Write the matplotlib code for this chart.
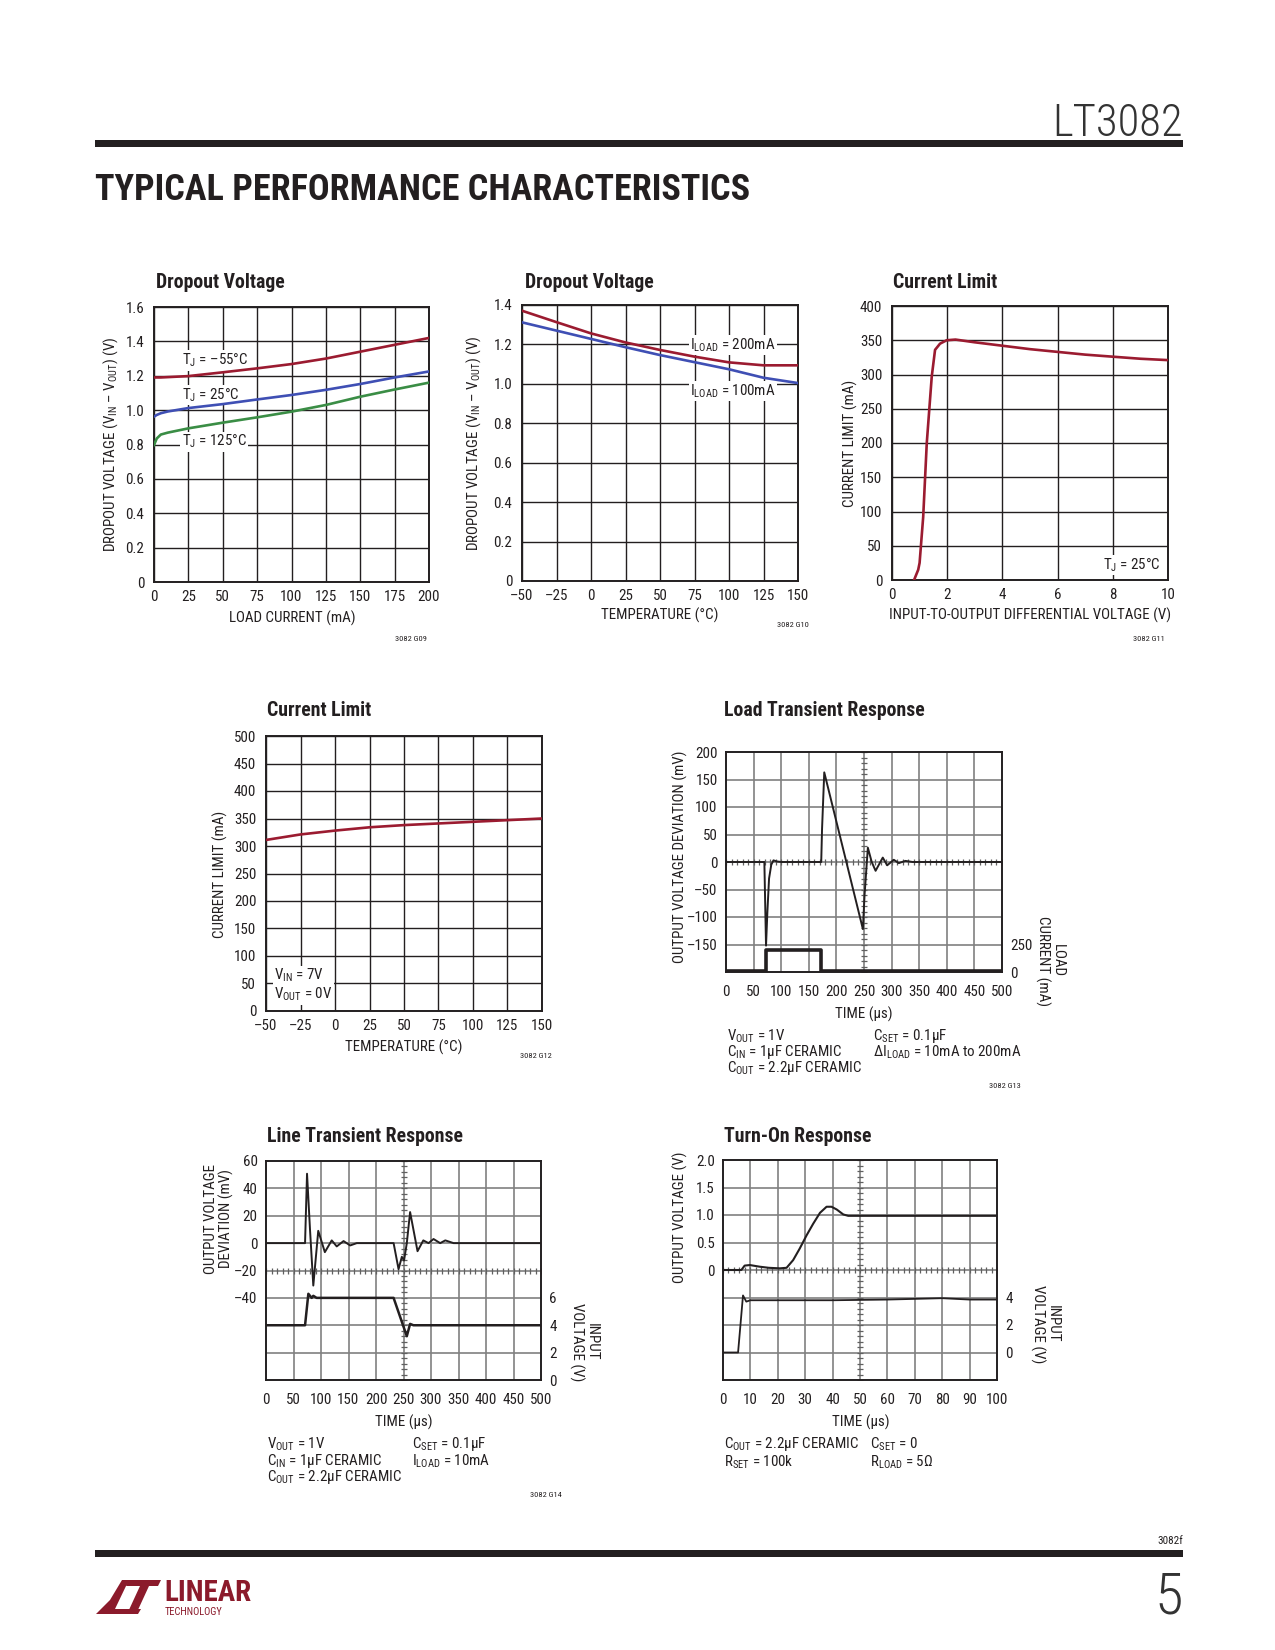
import numpy as np
import matplotlib
matplotlib.use("Agg")
import matplotlib.pyplot as plt
import matplotlib.font_manager as fm
from matplotlib.patches import Rectangle, Polygon

# ---------------------------------------------------------------------------
# Data
# ---------------------------------------------------------------------------
# G09: dropout voltage vs load current
load_ma = [0, 2, 5, 10, 25, 50, 75, 100, 125, 150, 175, 200]
vdo_m55 = [1.190, 1.190, 1.190, 1.192, 1.198, 1.220, 1.243, 1.268, 1.300, 1.340, 1.380, 1.420]
vdo_25 = [0.962, 0.972, 0.982, 0.992, 1.012, 1.035, 1.062, 1.088, 1.118, 1.152, 1.190, 1.225]
vdo_125 = [0.797, 0.835, 0.858, 0.869, 0.894, 0.927, 0.958, 0.991, 1.030, 1.078, 1.120, 1.160]

# G10: dropout voltage vs temperature
temp_c = [-50, -25, 0, 25, 50, 75, 100, 125, 150]
vdo_200ma = [1.371, 1.313, 1.256, 1.210, 1.172, 1.138, 1.109, 1.094, 1.094]
vdo_100ma = [1.312, 1.270, 1.228, 1.186, 1.146, 1.110, 1.074, 1.031, 1.004]

# G11: current limit vs input-to-output differential
vdiff = [0.80, 0.95, 1.00, 1.13, 1.26, 1.44, 1.56, 1.74, 1.98, 2.3, 3, 4, 5, 6, 7, 8, 9, 10]
ilim_vdiff = [0, 15, 25, 92, 200, 297, 336, 345, 350, 351, 347, 342, 337, 333, 329, 326, 323, 321]

# G12: current limit vs temperature
ilim_temp = [311, 321, 328, 334, 338, 341, 344, 347, 350]

# G13: load transient
t_load = [0, 69.5, 72.5, 75, 78, 82, 86, 92, 100, 172.5, 174, 178, 248, 251, 257,
          264, 271, 278, 284, 292, 304, 313, 325, 338, 500]
dv_load = [0, 0, -152, -90, -30, -5, 3, 1, 0, 0, 60, 163, -122, -60, 26,
           0, -16, -3, 8, -6, 4, -2, 2, 0, 0]
t_iload = [0, 72.5, 72.5, 172.5, 172.5, 500]
i_load = [10, 10, 200, 200, 10, 10]

# G14: line transient
t_line = [0, 71, 74.6, 80, 86, 95, 107, 119.5, 128.6, 141, 153, 165, 232, 241, 247,
          251, 256, 262, 275.5, 286, 295.5, 304.6, 316.7, 326, 341, 500]
dv_line = [0, 0, 50.7, 10, -31, 9, -6.6, 2, -2.4, 1.5, -1.7, 0, 0, -19, -10,
           -12.7, 0, 22.7, -5.9, 2, 0, 3, 0, 2, 0, 0]
t_vin = [0, 71, 77, 83, 86, 92, 232, 256, 262, 268, 500]
v_in = [4.0, 4.0, 6.3, 6.0, 6.15, 6.0, 6.0, 3.2, 4.1, 4.0, 4.0]

# Turn-on response
t_on = [0, 6.7, 7.9, 9.8, 13.4, 16.7, 20.7, 23.2, 25.6, 28, 30.5, 32.9, 35.4,
        37.8, 39.6, 41.5, 43.9, 45.7, 100]
vout_on = [0, 0, 0.08, 0.09, 0.06, 0.04, 0.03, 0.04, 0.18, 0.39, 0.63, 0.84, 1.04,
           1.15, 1.15, 1.10, 1.01, 0.985, 0.985]
t_on_in = [0, 5.5, 7.3, 8.5, 10, 40, 60, 80, 90, 100]
vin_on = [0, 0, 4.15, 3.7, 3.8, 3.8, 3.85, 3.95, 3.85, 3.85]

# tick labels
load_ticks = [0, 25, 50, 75, 100, 125, 150, 175, 200]
temp_ticks = [-50, -25, 0, 25, 50, 75, 100, 125, 150]
temp_labels = ["–50", "–25", "0", "25", "50", "75", "100", "125", "150"]

# ---------------------------------------------------------------------------
# Font: prefer a condensed sans like the datasheet's Helvetica Condensed
# ---------------------------------------------------------------------------
_names = {f.name for f in fm.fontManager.ttflist}
_condensed_dejavu = any(f.name == "DejaVu Sans" and f.stretch in ("condensed", 500)
                        for f in fm.fontManager.ttflist)
NARROW = None
for cand in ("Liberation Sans Narrow", "Roboto Condensed", "Open Sans Condensed",
             "DejaVu Sans Condensed"):
    if cand in _names:
        NARROW = cand
        break
STRETCH = "normal"
if NARROW is None and _condensed_dejavu:
    NARROW, STRETCH = "DejaVu Sans", "condensed"
if NARROW is None:
    NARROW = "Liberation Sans" if "Liberation Sans" in _names else "DejaVu Sans"
    FS = 9
else:
    FS = 10.8

W, H = 1275, 1650
INK = "#231f20"
RED = "#9b1b30"
BLUE = "#3f4fb4"
GREEN = "#3a8d45"
GRID = "#808080"
TITLE_FS = FS * 1.32

plt.rcParams.update({
    "font.family": [NARROW, "DejaVu Sans"],
    "font.stretch": STRETCH,
    "mathtext.fontset": "custom",
    "mathtext.rm": NARROW,
    "mathtext.it": NARROW + ":italic",
    "mathtext.bf": NARROW + ":bold",
    "text.color": INK,
    "axes.edgecolor": INK,
    "xtick.color": INK,
    "ytick.color": INK,
})

fig = plt.figure(figsize=(W / 100, H / 100), dpi=100)
fig.patch.set_facecolor("white")


def fx(x):
    return x / W


def fy(y):
    return 1 - y / H


def add_axes(x0, y0, x1, y1):
    return fig.add_axes([fx(x0), fy(y1), (x1 - x0) / W, (y1 - y0) / H])


def ftext(x, y, s, **kw):
    kw.setdefault("fontsize", FS)
    return fig.text(fx(x), fy(y), s, **kw)


def grid_chart(ax, xticks, yticks, xlabels=None, ylabels=None):
    ax.set_xlim(xticks[0], xticks[-1])
    ax.set_ylim(yticks[0], yticks[-1])
    ax.set_xticks(xticks)
    ax.set_yticks(yticks)
    if xlabels is not None:
        ax.set_xticklabels(xlabels)
    if ylabels is not None:
        ax.set_yticklabels(ylabels)
    ax.grid(True, color=INK, lw=1.0)
    ax.set_axisbelow(True)
    ax.tick_params(length=0, labelsize=FS)
    ax.tick_params(axis="x", pad=6)
    ax.tick_params(axis="y", pad=7)
    for s in ax.spines.values():
        s.set_linewidth(1.4)


def scope(ax, xlim, ylim, nx=10, ny=8):
    ax.set_xlim(xlim)
    ax.set_ylim(ylim)
    xs = np.linspace(xlim[0], xlim[1], nx + 1)
    ys = np.linspace(ylim[0], ylim[1], ny + 1)
    for x in xs[1:-1]:
        ax.axvline(x, color=GRID, lw=1.2, zorder=1)
    for y in ys[1:-1]:
        ax.axhline(y, color=GRID, lw=1.2, zorder=1)
    xc, yc = xs[nx // 2], ys[ny // 2]
    sub_x = np.linspace(xlim[0], xlim[1], nx * 5 + 1)
    sub_y = np.linspace(ylim[0], ylim[1], ny * 5 + 1)
    ax.plot(sub_x, np.full_like(sub_x, yc), ls="none", marker="|", ms=4,
            mew=0.9, color="#606060", zorder=1)
    ax.plot(np.full_like(sub_y, xc), sub_y, ls="none", marker="_", ms=4,
            mew=0.9, color="#606060", zorder=1)
    ax.tick_params(length=0, labelsize=FS)
    ax.tick_params(axis="x", pad=9)
    ax.tick_params(axis="y", pad=6)
    for s in ax.spines.values():
        s.set_linewidth(1.4)
    return xs, ys


box = dict(facecolor="white", edgecolor="none", pad=1.0)

# ---------------------------------------------------------------------------
# Page furniture
# ---------------------------------------------------------------------------
ftext(1183, 124, "LT3082", fontsize=32, fontweight="light", ha="right",
      va="center", color="#333333")
fig.add_artist(Rectangle((fx(95), fy(147)), fx(1183) - fx(95), 7 / H,
                         transform=fig.transFigure, color=INK, lw=0))
ftext(95, 190, "TYPICAL PERFORMANCE CHARACTERISTICS", fontsize=26,
      fontweight="bold", ha="left", va="center", color=INK)

ftext(1183, 1541, "3082f", fontsize=8, ha="right", va="center")
fig.add_artist(Rectangle((fx(95), fy(1557)), fx(1183) - fx(95), 7 / H,
                         transform=fig.transFigure, color=INK, lw=0))
ftext(1183, 1598, "5", fontsize=42, fontweight="light", ha="right", va="center",
      color="#333333")

LOGO = "#8b1a2b"
logo_l = [(96, 1614), (138, 1614), (141, 1609), (115, 1609), (126, 1586),
          (131, 1580), (122, 1580), (110, 1600)]
logo_t = [(129, 1580), (161, 1580), (158, 1586), (149, 1586), (137, 1612),
          (128, 1612), (140, 1586), (126, 1586)]
for pts in (logo_l, logo_t):
    fig.add_artist(Polygon([(fx(x), fy(y)) for x, y in pts], closed=True,
                           transform=fig.transFigure, color=LOGO, lw=0))
ftext(164, 1593, "LINEAR", fontsize=21, fontweight="bold", color=LOGO,
      ha="left", va="center")
ftext(165, 1612, "TECHNOLOGY", fontsize=7.5, color=LOGO, ha="left", va="center")

# ---------------------------------------------------------------------------
# G09  Dropout voltage vs load current
# ---------------------------------------------------------------------------
ax = add_axes(154, 307, 429, 582)
grid_chart(ax, load_ticks, [0, 0.2, 0.4, 0.6, 0.8, 1.0, 1.2, 1.4, 1.6],
           ylabels=["0", "0.2", "0.4", "0.6", "0.8", "1.0", "1.2", "1.4", "1.6"])
ax.plot(load_ma, vdo_m55, color=RED, lw=1.9, zorder=4)
ax.plot(load_ma, vdo_25, color=BLUE, lw=1.9, zorder=4)
ax.plot(load_ma, vdo_125, color=GREEN, lw=1.9, zorder=4)
ax.text(20, 1.289, r"T$_\mathrm{J}$ = –55°C", fontsize=FS, va="center", bbox=box)
ax.text(20, 1.088, r"T$_\mathrm{J}$ = 25°C", fontsize=FS, va="center", bbox=box)
ax.text(20, 0.817, r"T$_\mathrm{J}$ = 125°C", fontsize=FS, va="center", bbox=box)
ftext(156, 283, "Dropout Voltage", fontsize=TITLE_FS, fontweight="bold", va="center")
ftext(292, 618, "LOAD CURRENT (mA)", ha="center", va="center")
ftext(111, 444, r"DROPOUT VOLTAGE (V$_\mathrm{IN}$ – V$_\mathrm{OUT}$) (V)",
      rotation=90, ha="center", va="center")
ftext(427, 639, "3082 G09", fontsize=6, ha="right", va="center")

# ---------------------------------------------------------------------------
# G10  Dropout voltage vs temperature
# ---------------------------------------------------------------------------
ax = add_axes(522, 305, 798, 581)
grid_chart(ax, temp_ticks, [0, 0.2, 0.4, 0.6, 0.8, 1.0, 1.2, 1.4], xlabels=temp_labels,
           ylabels=["0", "0.2", "0.4", "0.6", "0.8", "1.0", "1.2", "1.4"])
ax.plot(temp_c, vdo_200ma, color=RED, lw=1.9, zorder=4)
ax.plot(temp_c, vdo_100ma, color=BLUE, lw=1.9, zorder=4)
ax.text(72, 1.197, r"I$_\mathrm{LOAD}$ = 200mA", fontsize=FS, va="center", bbox=box)
ax.text(72, 0.964, r"I$_\mathrm{LOAD}$ = 100mA", fontsize=FS, va="center", bbox=box)
ftext(525, 283, "Dropout Voltage", fontsize=TITLE_FS, fontweight="bold", va="center")
ftext(660, 615, "TEMPERATURE (°C)", ha="center", va="center")
ftext(474, 443, r"DROPOUT VOLTAGE (V$_\mathrm{IN}$ – V$_\mathrm{OUT}$) (V)",
      rotation=90, ha="center", va="center")
ftext(809, 625, "3082 G10", fontsize=6, ha="right", va="center")

# ---------------------------------------------------------------------------
# G11  Current limit vs differential voltage
# ---------------------------------------------------------------------------
ax = add_axes(892, 306, 1168, 580)
grid_chart(ax, [0, 2, 4, 6, 8, 10], [0, 50, 100, 150, 200, 250, 300, 350, 400])
ax.plot(vdiff, ilim_vdiff, color=RED, lw=1.9, zorder=4)
ax.text(9.75, 22, r"T$_\mathrm{J}$ = 25°C", fontsize=FS, ha="right", va="center", bbox=box)
ftext(893, 283, "Current Limit", fontsize=TITLE_FS, fontweight="bold", va="center")
ftext(1030, 615, "INPUT-TO-OUTPUT DIFFERENTIAL VOLTAGE (V)", ha="center", va="center")
ftext(850, 443, "CURRENT LIMIT (mA)", rotation=90, ha="center", va="center")
ftext(1165, 639, "3082 G11", fontsize=6, ha="right", va="center")

# ---------------------------------------------------------------------------
# G12  Current limit vs temperature
# ---------------------------------------------------------------------------
ax = add_axes(266, 736, 542, 1011)
grid_chart(ax, temp_ticks, [0, 50, 100, 150, 200, 250, 300, 350, 400, 450, 500],
           xlabels=temp_labels)
ax.plot(temp_c, ilim_temp, color=RED, lw=1.9, zorder=4)
ax.text(-44, 47, "V$_\\mathrm{IN}$ = 7V\nV$_\\mathrm{OUT}$ = 0V", fontsize=FS,
        va="center", linespacing=1.1, bbox=box)
ftext(267, 710, "Current Limit", fontsize=TITLE_FS, fontweight="bold", va="center")
ftext(404, 1047, "TEMPERATURE (°C)", ha="center", va="center")
ftext(220, 874, "CURRENT LIMIT (mA)", rotation=90, ha="center", va="center")
ftext(552, 1056, "3082 G12", fontsize=6, ha="right", va="center")

# ---------------------------------------------------------------------------
# G13  Load transient response
# ---------------------------------------------------------------------------
ax = add_axes(726, 752, 1002, 972)
xs, ys = scope(ax, (0, 500), (-200, 200))
ax.set_xticks(xs)
ax.set_xticklabels([f"{v:.0f}" for v in xs])
ax.set_yticks(ys[1:])
ax.set_yticklabels([f"{v:.0f}".replace("-", "–") for v in ys[1:]])
ax.plot(t_load, dv_load, color=INK, lw=1.4, zorder=3)
axr = ax.twinx()
axr.set_ylim(0, 2000)
axr.set_yticks([0, 250])
axr.tick_params(length=0, labelsize=FS, pad=6)
axr.plot(t_iload, i_load, color=INK, lw=2.6, zorder=3)
for s in axr.spines.values():
    s.set_visible(False)
ftext(724, 710, "Load Transient Response", fontsize=TITLE_FS, fontweight="bold", va="center")
ftext(864, 1014, "TIME (µs)", ha="center", va="center")
ftext(680, 857, "OUTPUT VOLTAGE DEVIATION (mV)", rotation=90, ha="center", va="center")
ftext(1050, 961, "LOAD\nCURRENT (mA)", rotation=270, ha="center", va="center",
      linespacing=1.0)
ftext(727, 1036, r"V$_\mathrm{OUT}$ = 1V", va="center")
ftext(727, 1052, r"C$_\mathrm{IN}$ = 1µF CERAMIC", va="center")
ftext(727, 1068, r"C$_\mathrm{OUT}$ = 2.2µF CERAMIC", va="center")
ftext(873, 1036, r"C$_\mathrm{SET}$ = 0.1µF", va="center")
ftext(873, 1052, r"ΔI$_\mathrm{LOAD}$ = 10mA to 200mA", va="center")
ftext(1021, 1086, "3082 G13", fontsize=6, ha="right", va="center")

# ---------------------------------------------------------------------------
# G14  Line transient response
# ---------------------------------------------------------------------------
ax = add_axes(266, 1161, 541, 1380)
xs, ys = scope(ax, (0, 500), (-100, 60))
ax.set_xticks(xs)
ax.set_xticklabels([f"{v:.0f}" for v in xs])
ax.set_yticks(ys[3:])
ax.set_yticklabels([f"{v:.0f}".replace("-", "–") for v in ys[3:]])
ax.plot(t_line, dv_line, color=INK, lw=1.4, zorder=3)
axr = ax.twinx()
axr.set_ylim(0, 16)
axr.set_yticks([0, 2, 4, 6])
axr.tick_params(length=0, labelsize=FS, pad=6)
axr.plot(t_vin, v_in, color=INK, lw=1.8, zorder=3)
for s in axr.spines.values():
    s.set_visible(False)
ftext(267, 1137, "Line Transient Response", fontsize=TITLE_FS, fontweight="bold", va="center")
ftext(404, 1422, "TIME (µs)", ha="center", va="center")
ftext(219, 1219, "OUTPUT VOLTAGE\nDEVIATION (mV)", rotation=90, ha="center",
      va="center", linespacing=1.0)
ftext(584, 1342, "INPUT\nVOLTAGE (V)", rotation=270, ha="center", va="center",
      linespacing=1.0)
ftext(267, 1444, r"V$_\mathrm{OUT}$ = 1V", va="center")
ftext(267, 1461, r"C$_\mathrm{IN}$ = 1µF CERAMIC", va="center")
ftext(267, 1477, r"C$_\mathrm{OUT}$ = 2.2µF CERAMIC", va="center")
ftext(412, 1444, r"C$_\mathrm{SET}$ = 0.1µF", va="center")
ftext(412, 1461, r"I$_\mathrm{LOAD}$ = 10mA", va="center")
ftext(562, 1495, "3082 G14", fontsize=6, ha="right", va="center")

# ---------------------------------------------------------------------------
# Turn-on response
# ---------------------------------------------------------------------------
ax = add_axes(723, 1160, 997, 1380)
xs, ys = scope(ax, (0, 100), (-2, 2))
ax.set_xticks(xs)
ax.set_xticklabels([f"{v:.0f}" for v in xs])
ax.set_yticks(ys[4:])
ax.set_yticklabels(["0", "0.5", "1.0", "1.5", "2.0"])
ax.plot(t_on, vout_on, color=INK, lw=1.5, zorder=3)
axr = ax.twinx()
axr.set_ylim(-2, 14)
axr.set_yticks([0, 2, 4])
axr.tick_params(length=0, labelsize=FS, pad=6)
axr.plot(t_on_in, vin_on, color=INK, lw=1.3, zorder=3)
for s in axr.spines.values():
    s.set_visible(False)
ftext(724, 1137, "Turn-On Response", fontsize=TITLE_FS, fontweight="bold", va="center")
ftext(861, 1422, "TIME (µs)", ha="center", va="center")
ftext(680, 1217, "OUTPUT VOLTAGE (V)", rotation=90, ha="center", va="center")
ftext(1045, 1324, "INPUT\nVOLTAGE (V)", rotation=270, ha="center", va="center",
      linespacing=1.0)
ftext(724, 1444, r"C$_\mathrm{OUT}$ = 2.2µF CERAMIC", va="center")
ftext(724, 1462, r"R$_\mathrm{SET}$ = 100k", va="center")
ftext(870, 1444, r"C$_\mathrm{SET}$ = 0", va="center")
ftext(870, 1462, r"R$_\mathrm{LOAD}$ = 5Ω", va="center")

fig.savefig("out.png", dpi=100, facecolor="white")
print("saved out.png", NARROW, STRETCH, FS)
